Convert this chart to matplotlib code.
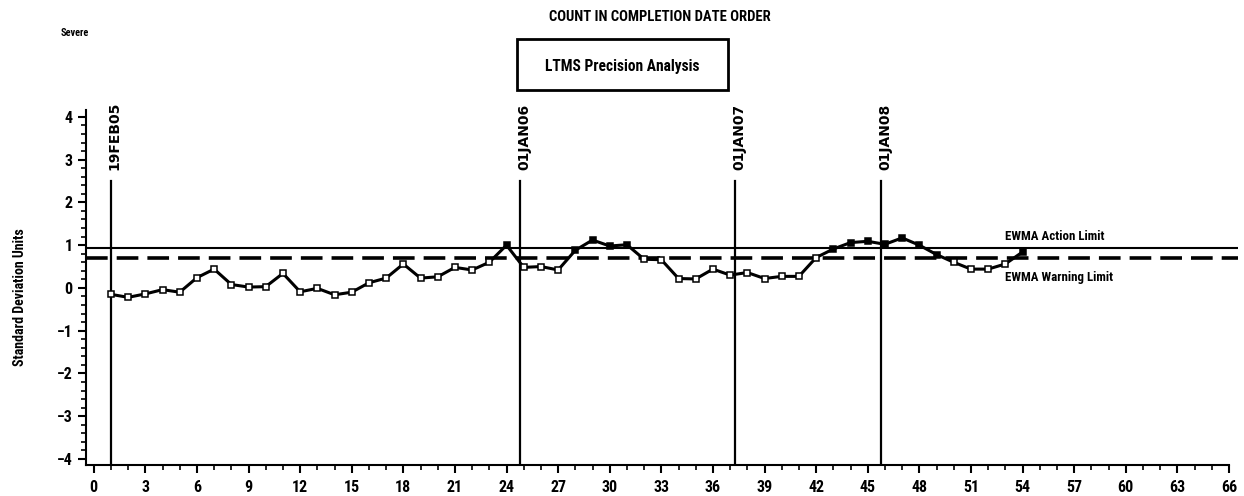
import matplotlib
matplotlib.use("Agg")
import matplotlib.pyplot as plt
from matplotlib.ticker import MultipleLocator
from matplotlib.patches import Rectangle
from matplotlib import font_manager as fm
import numpy as np

# choose a condensed family if one is installed
_names = {f.name for f in fm.fontManager.ttflist}
_cands = ['Liberation Sans Narrow', 'DejaVu Sans Condensed', 'Roboto Condensed',
          'Open Sans Condensed', 'Noto Sans Condensed']
_cond = [c for c in _cands if c in _names]
FONT = (_cond[:1] or []) + ['DejaVu Sans']
plt.rcParams['font.family'] = FONT
plt.rcParams['font.stretch'] = 'condensed'

# ---- data ----
ewma = [-0.15, -0.22, -0.14, -0.04, -0.10, 0.24, 0.44, 0.08, 0.02, 0.03,
        0.34, -0.09, -0.01, -0.16, -0.10, 0.12, 0.23, 0.56, 0.23, 0.26,
        0.48, 0.42, 0.60, 1.00, 0.48, 0.50, 0.42, 0.88, 1.12, 0.98,
        1.01, 0.67, 0.66, 0.22, 0.21, 0.44, 0.30, 0.36, 0.22, 0.27,
        0.27, 0.71, 0.91, 1.06, 1.09, 1.02, 1.17, 1.00, 0.78, 0.60,
        0.44, 0.44, 0.56, 0.84]
test_count = list(range(1, len(ewma) + 1))
action_limit = 0.93
warning_limit = 0.71
date_positions = [1.0, 24.8, 37.3, 45.8]
date_labels = ['19FEB05', '01JAN06', '01JAN07', '01JAN08']
title_text = 'COUNT IN COMPLETION DATE ORDER'
box_text = 'LTMS Precision Analysis'
ylabel_text = 'Standard Deviation Units'
corner_text = 'Severe'
xlim = (-0.45, 66.5)
ylim = (-4.14, 4.16)

W, H = 1244, 496
fig = plt.figure(figsize=(W / 100, H / 100), dpi=100)
ax = fig.add_axes([86 / W, 1 - 465 / H, (1237.5 - 86) / W, (465 - 110) / H])
ax.set_xlim(*xlim)
ax.set_ylim(*ylim)

for s in ['top', 'right']:
    ax.spines[s].set_visible(False)
ax.spines['left'].set_linewidth(1.5)
ax.spines['bottom'].set_linewidth(1.5)
ax.spines['bottom'].set_bounds(xlim[0], 66)

ax.set_xticks(np.arange(0, 67, 3))
ax.set_yticks(np.arange(-4, 5, 1))
ax.xaxis.set_minor_locator(MultipleLocator(1))
ax.yaxis.set_minor_locator(MultipleLocator(0.2))
ax.set_yticklabels(['\u22124', '\u22123', '\u22122', '\u22121', '0', '1', '2', '3', '4'])
ax.tick_params(axis='both', which='major', direction='out', length=6, width=1.5,
               labelsize=11.5)
ax.tick_params(axis='x', which='major', pad=5)
ax.tick_params(axis='both', which='minor', direction='out', length=3.5, width=1.2)
for lab in ax.get_xticklabels() + ax.get_yticklabels():
    lab.set_fontweight('bold')
    lab.set_family(FONT)
    lab.set_fontstretch('condensed')
    lab.set_fontsize(11.5)

# limits
ax.axhline(action_limit, color='black', lw=1.5, zorder=2)
ax.axhline(warning_limit, color='black', lw=2.6, dashes=(6, 2.5), zorder=2)
ax.text(53.0, 1.21, 'EWMA Action Limit', fontsize=9.3,
        fontweight='bold', ha='left', va='center')
ax.text(53.0, 0.24, 'EWMA Warning Limit', fontsize=9.3,
        fontweight='bold', ha='left', va='center')

# date reference lines
for xp, lab in zip(date_positions, date_labels):
    ax.plot([xp, xp], [ylim[0], 2.5], color='black', lw=1.6, zorder=2)
    ax.text(xp + 0.22, 2.75, lab, rotation=90, ha='center', va='bottom',
            fontsize=10, fontweight='bold', family=['DejaVu Sans'],
            fontstretch='normal')

# data line
ax.plot(test_count, ewma, color='black', lw=2.2, zorder=3)
xs = np.array(test_count)
ys = np.array(ewma)
hi = ys > warning_limit
ax.plot(xs[~hi], ys[~hi], ls='none', marker='s', ms=5, mfc='white',
        mec='black', mew=1.1, zorder=4)
ax.plot(xs[hi], ys[hi], ls='none', marker='s', ms=5, mfc='black',
        mec='black', mew=1.1, zorder=4)

# y label
fig.text(20 / W, 1 - 297 / H, ylabel_text, rotation=90, ha='center', va='center',
         fontsize=10, fontweight='bold')

# titles
fig.text(660 / W, 1 - 17 / H, title_text, ha='center', va='center',
         fontsize=10.5, fontweight='bold')
fig.add_artist(Rectangle((517 / W, 1 - 90 / H), (728 - 517) / W, (90 - 39) / H,
                         transform=fig.transFigure, fill=False, lw=2, ec='black'))
fig.text(622 / W, 1 - 66 / H, box_text, ha='center', va='center',
         fontsize=11.2, fontweight='bold')
fig.text(75 / W, 1 - 33 / H, corner_text, ha='center', va='center',
         fontsize=7.5, fontweight='bold')

fig.savefig('out.png', dpi=100)
